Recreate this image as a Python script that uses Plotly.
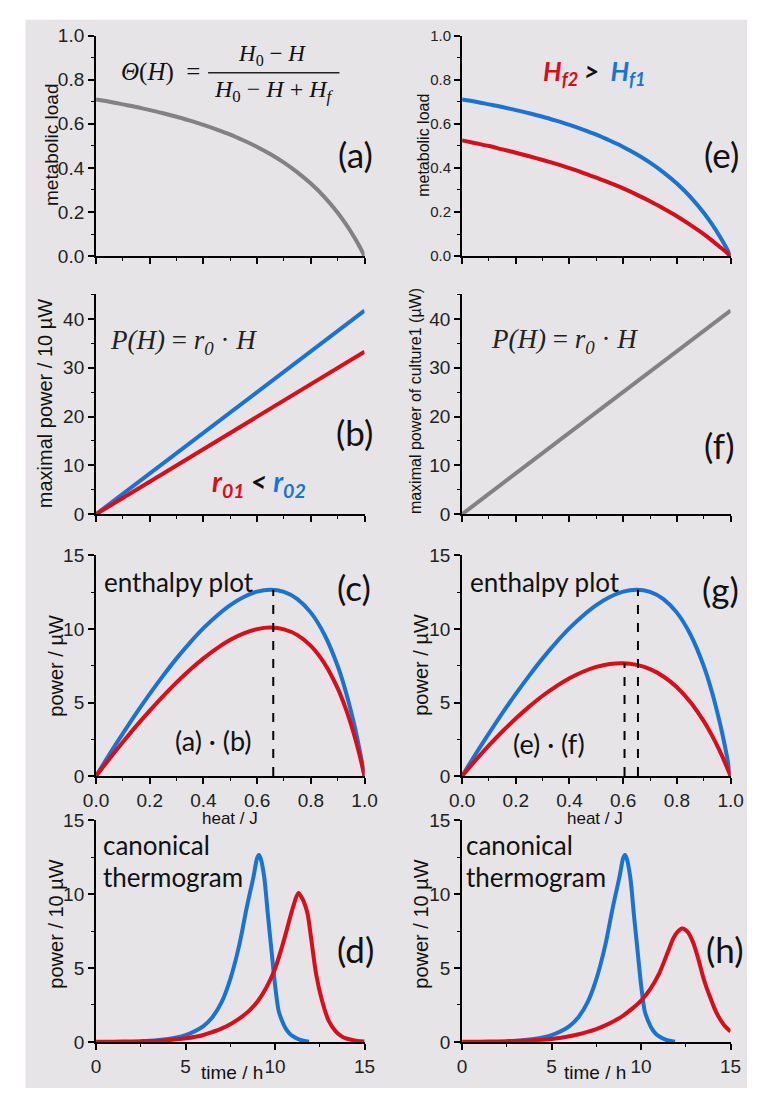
import plotly.graph_objects as go

W, H = 760, 1099

# ---------------- data ----------------
heat = [0, 0.05, 0.1, 0.15, 0.2, 0.25, 0.3, 0.35, 0.4, 0.45, 0.5, 0.55, 0.6,
        0.65, 0.7, 0.75, 0.8, 0.85, 0.9, 0.93, 0.96, 0.98, 1.0]
load_hf1 = [0.710, 0.700, 0.688, 0.676, 0.662, 0.648, 0.632, 0.614, 0.595, 0.574,
            0.551, 0.524, 0.495, 0.462, 0.424, 0.380, 0.329, 0.269, 0.197, 0.146,
            0.089, 0.047, 0.0]
load_hf2 = [0.525, 0.512, 0.499, 0.484, 0.469, 0.453, 0.436, 0.418, 0.399, 0.378,
            0.356, 0.332, 0.307, 0.279, 0.249, 0.216, 0.181, 0.142, 0.100, 0.072,
            0.042, 0.022, 0.0]

heat_line = [0, 1]
pmax_r02 = [0, 41.7]
pmax_r01 = [0, 33.3]
pmax_culture1 = [0, 41.7]

enth_blue = [0, 1.48, 2.90, 4.28, 5.59, 6.83, 8.00, 9.07, 10.05, 10.90, 11.62, 12.17,
             12.54, 12.67, 12.52, 12.03, 11.11, 9.64, 7.48, 5.75, 3.62, 1.93, 0]
enth_red_c = [0, 1.18, 2.31, 3.41, 4.45, 5.44, 6.37, 7.23, 8.00, 8.68, 9.26, 9.70,
              9.99, 10.09, 9.97, 9.58, 8.85, 7.68, 5.96, 4.58, 2.88, 1.54, 0]
enth_red_g = [0, 1.07, 2.08, 3.03, 3.91, 4.72, 5.46, 6.10, 6.65, 7.09, 7.42, 7.62,
              7.67, 7.56, 7.27, 6.77, 6.04, 5.04, 3.73, 2.78, 1.69, 0.88, 0]

peak_c_heat = [0.66, 0.66]
peak_c_power = [0, 12.67]
peak_g_blue_heat = [0.655, 0.655]
peak_g_blue_power = [0, 12.67]
peak_g_red_heat = [0.605, 0.605]
peak_g_red_power = [0, 7.67]

time_blue = [2.5, 3.0, 3.5, 4.0, 4.5, 5.0, 5.5, 6.0, 6.5, 7.0, 7.5, 8.0, 8.4, 8.6,
             8.8, 9.0, 9.1, 9.2, 9.4, 9.6, 9.8, 10.0, 10.2, 10.4, 10.6, 10.8, 11.0,
             11.4, 11.9]
therm_blue = [0.05, 0.08, 0.13, 0.2, 0.3, 0.46, 0.71, 1.07, 1.67, 2.65, 4.25, 6.55,
              8.99, 10.1, 11.2, 12.45, 12.65, 12.4, 11.1, 8.6, 6.2, 3.85, 2.1, 1.4,
              0.9, 0.58, 0.38, 0.14, 0.02]

time_red_d = [0, 1, 2, 3, 4, 5, 6, 6.5, 7, 7.5, 8, 8.5, 9, 9.5, 10, 10.5, 11, 11.3,
              11.5, 11.8, 12.0, 12.3, 12.6, 13.0, 13.4, 13.8, 14.2, 14.6, 15]
therm_red_d = [0.01, 0.015, 0.03, 0.06, 0.12, 0.24, 0.47, 0.67, 0.9, 1.2, 1.58, 2.05,
               2.7, 3.65, 4.95, 6.9, 9.1, 10.07, 9.75, 8.75, 7.15, 4.55, 2.9, 1.42,
               0.7, 0.32, 0.16, 0.07, 0.03]

time_red_h = [0, 1, 2, 3, 4, 5, 6, 7, 7.5, 8, 8.5, 9, 9.5, 10, 10.5, 11, 11.5, 11.8,
              12.0, 12.3, 12.6, 12.9, 13.2, 13.5, 13.8, 14.2, 14.6, 15]
therm_red_h = [0.01, 0.015, 0.03, 0.06, 0.11, 0.2, 0.38, 0.68, 0.87, 1.12, 1.42, 1.78,
               2.25, 2.8, 3.55, 4.6, 6.1, 7.0, 7.4, 7.67, 7.45, 6.75, 5.6, 4.25, 3.2,
               2.0, 1.2, 0.7]

BLUE = "#1874d4"
RED = "#dc0c18"
GRAY = "#828282"
BG = "#e6e4e6"


def px(x):
    return x / W


def py(y):
    return 1 - y / H


# ---------------- figure ----------------
fig = go.Figure()


def line(x, y, ax, color, width=4, dash=None, shape="spline"):
    fig.add_trace(go.Scatter(
        x=x, y=y, xaxis="x" + ax, yaxis="y" + ax, mode="lines",
        line=dict(color=color, width=width, dash=dash, shape=shape,
                  smoothing=0.8 if shape == "spline" else None),
        hoverinfo="skip", showlegend=False))


# (a)
line(heat, load_hf1, "", GRAY)
# (b)
line(heat_line, pmax_r02, "2", BLUE, shape="linear")
line(heat_line, pmax_r01, "2", RED, shape="linear")
# (c)
line(heat, enth_blue, "3", BLUE)
line(heat, enth_red_c, "3", RED)
line(peak_c_heat, peak_c_power, "3", "black", width=2, dash="dash", shape="linear")
# (d)
line(time_blue, therm_blue, "4", BLUE)
line(time_red_d, therm_red_d, "4", RED)
# (e)
line(heat, load_hf1, "5", BLUE)
line(heat, load_hf2, "5", RED)
# (f)
line(heat_line, pmax_culture1, "6", GRAY, shape="linear")
# (g)
line(heat, enth_blue, "7", BLUE)
line(heat, enth_red_g, "7", RED)
line(peak_g_red_heat, peak_g_red_power, "7", "black", width=2, dash="dash", shape="linear")
line(peak_g_blue_heat, peak_g_blue_power, "7", "black", width=2, dash="dash", shape="linear")
# (h)
line(time_blue, therm_blue, "8", BLUE)
line(time_red_h, therm_red_h, "8", RED)

# ---------------- axes ----------------
XL = [px(86), px(364)]
XR = [px(465), px(743)]


def ydom(top, bot):
    return [py(bot), py(top)]


ROWS = [ydom(26, 251), ydom(290, 514), ydom(556, 781), ydom(826, 1052)]
TICKFONT = "Liberation Sans, Arial"


def xaxis(dom, anchor, rng, dtick, mdtick, labels, fmt, size=19):
    return dict(domain=dom, anchor=anchor, range=rng, dtick=dtick, tick0=0,
                showline=True, linecolor="black", linewidth=2,
                ticks="outside", ticklen=6, tickwidth=1.5, tickcolor="black",
                showgrid=False, zeroline=False, showticklabels=labels,
                tickformat=fmt,
                tickfont=dict(family=TICKFONT, size=size, color="#222"),
                minor=dict(dtick=mdtick, tick0=0, ticks="outside", ticklen=3,
                           tickwidth=1.2, tickcolor="black", showgrid=False))


def yaxis(dom, anchor, rng, dtick, mdtick, fmt, size=19):
    return dict(domain=dom, anchor=anchor, range=rng, dtick=dtick, tick0=0,
                showline=True, linecolor="black", linewidth=2,
                ticks="outside", ticklen=6, tickwidth=1.5, tickcolor="black",
                showgrid=False, zeroline=False, tickformat=fmt,
                tickfont=dict(family=TICKFONT, size=size, color="#222"),
                minor=dict(dtick=mdtick, tick0=0, ticks="outside", ticklen=3,
                           tickwidth=1.2, tickcolor="black", showgrid=False))


layout_axes = {
    "xaxis": xaxis(XL, "y", [0, 1], 0.2, 0.1, False, ".1f"),
    "yaxis": yaxis(ROWS[0], "x", [0, 1], 0.2, 0.1, ".1f"),
    "xaxis2": xaxis(XL, "y2", [0, 1], 0.2, 0.1, False, ".1f"),
    "yaxis2": yaxis(ROWS[1], "x2", [0, 45], 10, 5, "d"),
    "xaxis3": xaxis(XL, "y3", [0, 1], 0.2, 0.1, True, ".1f"),
    "yaxis3": yaxis(ROWS[2], "x3", [0, 15], 5, 2.5, "d"),
    "xaxis4": xaxis(XL, "y4", [0, 15], 5, 2.5, True, "d"),
    "yaxis4": yaxis(ROWS[3], "x4", [0, 15], 5, 2.5, "d"),
    "xaxis5": xaxis(XR, "y5", [0, 1], 0.2, 0.1, False, ".1f"),
    "yaxis5": yaxis(ROWS[0], "x5", [0, 1], 0.2, 0.1, ".1f", size=15),
    "xaxis6": xaxis(XR, "y6", [0, 1], 0.2, 0.1, False, ".1f"),
    "yaxis6": yaxis(ROWS[1], "x6", [0, 45], 10, 5, "d"),
    "xaxis7": xaxis(XR, "y7", [0, 1], 0.2, 0.1, True, ".1f"),
    "yaxis7": yaxis(ROWS[2], "x7", [0, 15], 5, 2.5, "d"),
    "xaxis8": xaxis(XR, "y8", [0, 15], 5, 2.5, True, "d"),
    "yaxis8": yaxis(ROWS[3], "x8", [0, 15], 5, 2.5, "d"),
}

# ---------------- text ----------------
ANNS = []
SANS = "Liberation Sans, Arial"
CAL = "Lato, Carlito, Calibri, sans-serif"
SERIF = "Liberation Serif, Times New Roman, serif"


def ann(text, x, y, size, family=SANS, color="#111", xanchor="center",
        yanchor="middle", angle=0):
    ANNS.append(dict(text=text, x=px(x), y=py(y), xref="paper", yref="paper",
                     xanchor=xanchor, yanchor=yanchor, showarrow=False,
                     textangle=angle, font=dict(family=family, size=size, color=color)))


# axis titles
ann("metabolic load", 40, 137, 19, angle=-90)
ann("metabolic load", 425, 138, 16, angle=-90)
ann("maximal power / 10 µW", 33, 401, 20, angle=-90)
ann("maximal power of culture1 (µW)", 417, 399, 16, angle=-90)
ann("power / µW", 45, 668, 20, angle=-90)
ann("power / µW", 423, 668, 20, angle=-90)
ann("power / 10 µW", 45, 932, 20, angle=-90)
ann("power / 10 µW", 423, 932, 20, angle=-90)
ann("heat / J", 225, 824, 17)
ann("heat / J", 603, 824, 17)
ann("time / h", 227, 1083, 19)
ann("time / h", 603, 1083, 19)

# panel letters
for lab, x, y in [("(a)", 355, 147), ("(e)", 734, 147), ("(b)", 354, 430),
                  ("(f)", 732, 443), ("(c)", 353, 588), ("(g)", 733, 590),
                  ("(d)", 355, 957), ("(h)", 737, 957)]:
    ann(lab, x, y, 35, family=CAL, color="#111")

# (a) formula
ann("<i>Θ</i>(<i>H</i>)&nbsp; =", 196, 63, 25, family=SERIF, xanchor="right")
ann("<i>H</i><sub>0</sub> − <i>H</i>", 268, 46, 23, family=SERIF)
ann("<i>H</i><sub>0</sub> − <i>H</i> + <i>H<sub>f</sub></i>", 270, 83, 24,
    family=SERIF)

# (e) Hf2 > Hf1
ann("<b><i><span style='color:%s'>H<sub>f2</sub></span> &gt;  "
    "<span style='color:%s'>H<sub>f1</sub></span></i></b>" % (RED, BLUE),
    547, 64, 26, family=CAL, color="#111", xanchor="left")

# (b)/(f) formula
ann("<i>P(H)</i> = <i>r<sub>0</sub></i> · <i>H</i>", 98, 338, 27, family=SERIF,
    color="#222", xanchor="left")
ann("<i>P(H)</i> = <i>r<sub>0</sub></i> · <i>H</i>", 493, 337, 27, family=SERIF,
    color="#222", xanchor="left")

# (b) r01 < r02
ann("<b><i><span style='color:%s'>r<sub>01</sub></span> &lt; "
    "<span style='color:%s'>r<sub>02</sub></span></i></b>" % (RED, BLUE),
    204, 482, 28, family=CAL, color="#111", xanchor="left")

# (c)/(g)
ann("enthalpy plot", 92, 583, 26, family=CAL, xanchor="left")
ann("enthalpy plot", 471, 583, 26, family=CAL, xanchor="left")
ann("(a) · (b)", 207, 745, 27, family=CAL)
ann("(e) · (f)", 555, 748, 27, family=CAL)

# (d)/(h)
ann("canonical", 91, 851, 26, family=CAL, xanchor="left")
ann("thermogram", 91, 884, 26, family=CAL, xanchor="left")
ann("canonical", 467, 851, 26, family=CAL, xanchor="left")
ann("thermogram", 467, 884, 26, family=CAL, xanchor="left")

shapes = [
    dict(type="rect", xref="paper", yref="paper", x0=px(13), x1=1, y0=0,
         y1=py(10), fillcolor=BG, line=dict(width=0), layer="below"),
    dict(type="line", xref="paper", yref="paper", x0=px(202), x1=px(338),
         y0=py(64), y1=py(64), line=dict(color="#222", width=1.5)),
]

fig.update_layout(
    width=W, height=H, margin=dict(l=0, r=0, t=0, b=0),
    paper_bgcolor="white", plot_bgcolor="rgba(0,0,0,0)",
    showlegend=False, annotations=ANNS, shapes=shapes, **layout_axes)

fig.write_html("out.html")
